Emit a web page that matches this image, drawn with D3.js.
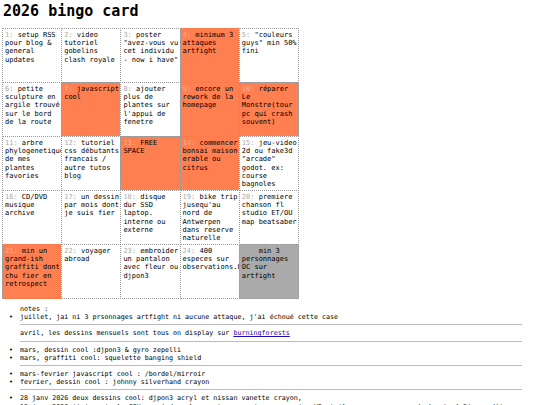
<!DOCTYPE html>
<html><head><meta charset="utf-8">
<script src="https://cdn.jsdelivr.net/npm/d3@7"></script>
<style>
body{margin:0;font-family:"DejaVu Sans Mono",monospace;background:#fff;color:#000;overflow:hidden}
h1{font-size:15px;margin:0;position:absolute;left:3px;top:2px}
.grid{position:absolute;left:2px;top:28px}
.cell{position:absolute;box-sizing:border-box;border:1px dotted #999;font-size:7px;line-height:8.2px;padding:2px 1px 1px 2px;overflow:visible;white-space:normal}
.n{color:#aaa}
.done .n{color:#ffb08f}
.notes{position:absolute;left:20px;top:305px;width:502px;font-size:6.7px;line-height:8.2px}
.notes ul{margin:0;padding-left:0;list-style:none}
.notes li:before{content:"\2022";position:absolute;left:-11px}
.notes li,.notes p{position:relative;margin:0}
.notes hr{border:0;border-top:1px solid #bbb;margin:3px 0 4px}
a{color:#1a0dab}
</style></head><body>
<h1>2026 bingo card</h1>
<div class="grid"></div>
<div class="notes"></div>
<script>
const items = ["setup RSS pour blog & general updates","video tutoriel gobelins clash royale","poster \"avez-vous vu cet individu - now i have\"","minimum 3 attaques artfight","\"couleurs guys\" min 50% fini",
"petite sculpture en argile trouvé sur le bord de la route","javascript cool","ajouter plus de plantes sur l'appui de fenetre","encore un rework de la homepage","réparer Le Monstre(tour pc qui crash souvent)",
"arbre phylogenetique de mes plantes favories","tutoriel css débutants francais / autre tutos blog","FREE SPACE","commencer bonsai maison erable ou citrus","jeu-video 2d ou fake3d \"arcade\" godot. ex: course bagnoles",
"CD/DVD musique archive","un dessin par mois dont je suis fier","disque dur SSD laptop. interne ou externe","bike trip jusequ'au nord de Antwerpen dans reserve naturelle","premiere chanson fl studio ET/OU map beatsaber",
"min un grand-ish graffiti dont chu fier en retrospect","voyager abroad","embroider un pantalon avec fleur ou djpon3","400 especes sur observations.be","min 3 personnages OC sur artfight"];
const done = [4,7,9,10,13,14,21];
const failed = [25];
const notes = [
 ["notes :", false],["juillet, jai ni 3 prsonnages artfight ni aucune attaque, j'ai échoué cette case", true],null,
 ["avril, les dessins mensuels sont tous on display sur <a href='#'>burningforests</a>", false],null,
 ["mars, dessin cool :djpon3 & gyro zepelli", true],["mars, graffiti cool: squelette banging shield", true],null,
 ["mars-fevrier javascript cool : /bordel/mirroir", true],["fevrier, dessin cool : johnny silverhand crayon", true],null,
 ["28 janv 2026 deux dessins cool: djpon3 acryl et nissan vanette crayon,", true],["15 janv 2026 j'ai remis le GPU cassé dans le monstre pour jouer a un jeu VR et il y a eu aucun crash depuis 4-5jours déja", true]
];

const x = d3.scaleBand().domain(d3.range(5)).range([0, 296]);
const y = d3.scaleBand().domain(d3.range(5)).range([0, 270]);

d3.select(".grid").selectAll("div").data(items).enter().append("div")
  .attr("class",(d,i)=>"cell"+(done.includes(i+1)?" done":""))
  .style("left",(d,i)=>x(i%5)+"px").style("top",(d,i)=>y(Math.floor(i/5))+"px")
  .style("width",x.bandwidth()+1+"px").style("height",y.bandwidth()+1+"px")
  .style("background",(d,i)=>done.includes(i+1)?"#ff7f50":failed.includes(i+1)?"#aaaaaa":"#fff")
  .html((d,i)=>`<span class="n">${i+1}:</span> ${d.replace(/&/g,"&amp;")}`);

const nb = d3.select(".notes");
let ul = null;
notes.forEach(function(n){
  if(!n){ nb.append("hr"); ul = null; return; }
  if(n[1]){ if(!ul) ul = nb.append("ul"); ul.append("li").html(n[0]); }
  else { ul = null; nb.append("p").html(n[0]); }
});
</script>
</body></html>
